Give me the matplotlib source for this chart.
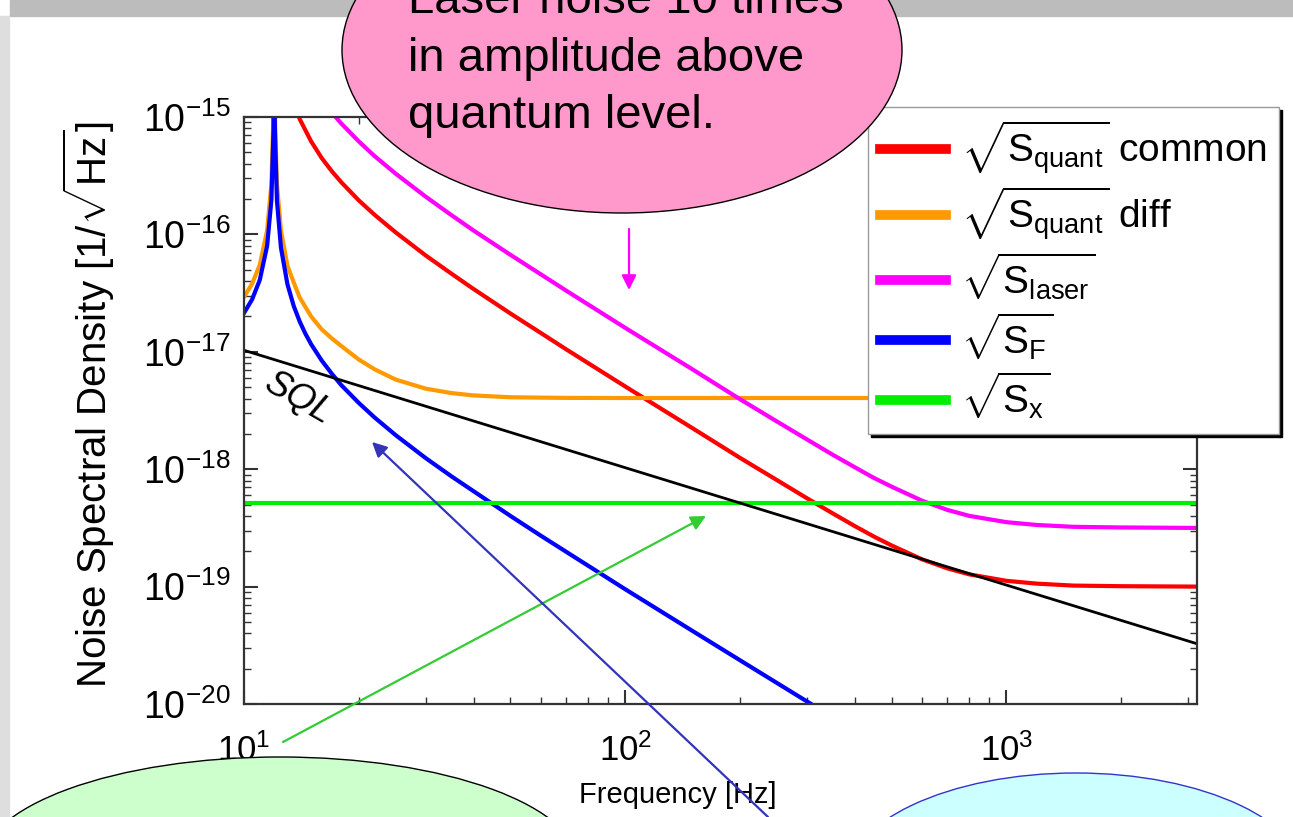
import numpy as np
import matplotlib
matplotlib.use("Agg")
import matplotlib.pyplot as plt
from matplotlib.patches import Ellipse, Rectangle, FancyArrowPatch

plt.rcParams['font.family'] = ['Liberation Sans', 'DejaVu Sans']
plt.rcParams['mathtext.fontset'] = 'custom'
plt.rcParams['mathtext.rm'] = 'Liberation Sans'
plt.rcParams['mathtext.it'] = 'Liberation Sans:italic'
plt.rcParams['mathtext.bf'] = 'Liberation Sans:bold'

# frequency grid around the 12 Hz suspension resonance [Hz]
freq_res = [10, 10.5, 11, 11.5, 11.8, 11.95, 12.0, 12.05, 12.2, 12.5, 13, 13.5, 14, 14.5,
            15, 16, 17, 18, 20, 22, 25, 30, 35, 40, 50, 60, 70, 100, 150, 200, 300, 400]
s_force = [2.14e-17, 2.79e-17, 4.09e-17, 8.0e-17, 1.97e-16, 7.8e-16, 1e-14, 7.8e-16,
           1.94e-16, 7.7e-17, 3.76e-17, 2.46e-17, 1.81e-17, 1.42e-17, 1.16e-17, 8.4e-18,
           6.5e-18, 5.2e-18, 3.67e-18, 2.76e-18, 1.95e-18, 1.24e-18, 8.7e-19, 6.5e-19,
           4.0e-19, 2.72e-19, 1.98e-19, 9.5e-20, 4.2e-20, 2.36e-20, 1.05e-20, 5.9e-21]

freq_diff = [10, 10.5, 11, 11.5, 11.8, 11.95, 12.0, 12.05, 12.2, 12.5, 13, 13.5, 14, 14.5,
             15, 16, 17, 18, 20, 22, 25, 30, 35, 40, 50, 60, 70, 100, 300, 1000, 3162]
s_quant_diff = [2.93e-17, 3.8e-17, 5.5e-17, 1.08e-16, 2.7e-16, 1.07e-15, 1e-14, 1.07e-15,
                2.7e-16, 1.08e-16, 5.4e-17, 3.9e-17, 2.9e-17, 2.4e-17, 2.0e-17, 1.55e-17,
                1.3e-17, 1.12e-17, 8.6e-18, 7.1e-18, 5.8e-18, 4.85e-18, 4.45e-18, 4.25e-18,
                4.1e-18, 4.07e-18, 4.05e-18, 4.04e-18, 4.04e-18, 4.04e-18, 4.04e-18]

freq_hi = [13, 14, 15, 16, 17, 18, 20, 22, 25, 30, 35, 40, 50, 60, 70, 100, 150, 200,
           250, 300, 350, 400, 450, 500, 600, 700, 800, 1000, 1200, 1500, 2000, 3162]
s_quant_common = [2.0e-15, 9.6e-16, 6.2e-16, 4.46e-16, 3.45e-16, 2.78e-16, 1.95e-16,
                  1.47e-16, 1.04e-16, 6.6e-17, 4.63e-17, 3.43e-17, 2.12e-17, 1.45e-17,
                  1.05e-17, 5.07e-18, 2.24e-18, 1.25e-18, 8.08e-19, 5.65e-19, 4.21e-19,
                  3.28e-19, 2.66e-19, 2.24e-19, 1.71e-19, 1.43e-19, 1.27e-19, 1.12e-19,
                  1.06e-19, 1.02e-19, 1.008e-19, 1.0e-19]
s_laser = [6.3e-15, 3.04e-15, 1.96e-15, 1.41e-15, 1.09e-15, 8.8e-16, 6.2e-16, 4.65e-16,
           3.29e-16, 2.09e-16, 1.46e-16, 1.08e-16, 6.7e-17, 4.58e-17, 3.32e-17, 1.6e-17,
           7.1e-18, 3.95e-18, 2.55e-18, 1.79e-18, 1.33e-18, 1.04e-18, 8.4e-19, 7.1e-19,
           5.4e-19, 4.5e-19, 4.0e-19, 3.54e-19, 3.35e-19, 3.23e-19, 3.19e-19, 3.16e-19]

freq_span = [10, 3162]
s_x = [5.15e-19, 5.15e-19]
sql = [1.03e-17, 3.26e-20]

W, H = 1293, 817
fig = plt.figure(figsize=(W / 100, H / 100), dpi=100)
fig.patch.set_facecolor('white')


def fx(x):
    return x / W


def fy(y):
    return 1 - y / H


# slide frame
fig.patches.append(Rectangle((fx(10), fy(16)), fx(W - 10), 16 / H,
                             transform=fig.transFigure, color='#bcbcbc', zorder=0))
fig.patches.append(Rectangle((0, 0), fx(9), fy(16), transform=fig.transFigure,
                             color='#dedede', zorder=0))

ax = fig.add_axes([fx(244), fy(704), fx(1197) - fx(244), (704 - 117) / H])
ax.set_xscale('log')
ax.set_yscale('log')

l_common, = ax.plot(freq_hi, s_quant_common, color='#ff0000', lw=3)
l_diff, = ax.plot(freq_diff, s_quant_diff, color='#ff9900', lw=3)
l_laser, = ax.plot(freq_hi, s_laser, color='#ff00ff', lw=3)
l_force, = ax.plot(freq_res, s_force, color='#0000ff', lw=3)
l_x, = ax.plot(freq_span, s_x, color='#00ee00', lw=3)
ax.plot(freq_span, sql, color='black', lw=2)

ax.set_xlim(10, 10 ** 3.5)
ax.set_ylim(1e-20, 1e-15)

ax.text(13.9, 4.0e-18, 'SQL', fontsize=26, style='italic', rotation=-30,
        ha='center', va='center')

for s in ax.spines.values():
    s.set_linewidth(1.6)
    s.set_color('#333333')
ax.tick_params(which='both', direction='in', top=True, right=True, colors='#333333',
               labelcolor='black')
ax.tick_params(which='major', length=10, width=1.5)
ax.tick_params(which='minor', length=5, width=1)
ax.tick_params(axis='y', which='major', labelsize=27, pad=10)
ax.tick_params(axis='x', which='major', labelsize=25, pad=21)

ax.set_xlabel('Frequency [Hz]', fontsize=21)
ax.set_ylabel(r'Noise Spectral Density [1/$\sqrt{\mathrm{Hz}}$]', fontsize=29)
ax.xaxis.set_label_coords(0.455, -0.131)
ax.yaxis.set_label_coords(-0.133, 0.51)

labels = [r'$\sqrt{\mathrm{S}_{\mathrm{quant}}}$ common',
          r'$\sqrt{\mathrm{S}_{\mathrm{quant}}}$ diff',
          r'$\sqrt{\mathrm{S}_{\mathrm{laser}}}$',
          r'$\sqrt{\mathrm{S}_{\mathrm{F}}}$',
          r'$\sqrt{\mathrm{S}_{\mathrm{x}}}$']
leg = fig.legend([l_common, l_diff, l_laser, l_force, l_x], labels,
                 loc='upper left', bbox_to_anchor=(fx(868), fy(107)),
                 borderaxespad=0, fontsize=28, handlelength=1.7, handletextpad=0.4,
                 labelspacing=0.2, borderpad=0.3, fancybox=False,
                 shadow={'color': 'black', 'alpha': 1.0}, framealpha=1,
                 edgecolor='#999999')
for ln in leg.get_lines():
    ln.set_linewidth(7)

# callout bubbles
fig.patches.append(Ellipse((fx(622), fy(50)), 560 / W, 326 / H,
                           transform=fig.transFigure, facecolor='#ff99cc',
                           edgecolor='black', lw=1, zorder=10))
fig.patches.append(Ellipse((fx(280), fy(867)), 600 / W, 220 / H,
                           transform=fig.transFigure, facecolor='#ccffcc',
                           edgecolor='black', lw=1, zorder=10))
fig.patches.append(Ellipse((fx(1076), fy(883)), 464 / W, 220 / H,
                           transform=fig.transFigure, facecolor='#ccffff',
                           edgecolor='#3333cc', lw=1, zorder=10))

for y, line in [(13, 'Laser noise 10 times'), (71, 'in amplitude above'),
                (128, 'quantum level.')]:
    fig.text(fx(408), fy(y), line, fontsize=34, va='baseline', ha='left', zorder=11)

# arrows
arrows = [((629, 229), (629, 290), '#ff00ff'),
          ((283, 742), (706, 516), '#33cc33'),
          ((768, 817), (372, 442), '#3333bb')]
for (x0, y0), (x1, y1), c in arrows:
    fig.patches.append(FancyArrowPatch((fx(x0), fy(y0)), (fx(x1), fy(y1)),
                                       transform=fig.transFigure, color=c, lw=1.6,
                                       arrowstyle='-|>', mutation_scale=22,
                                       shrinkA=0, shrinkB=0, zorder=12))

fig.savefig('out.png', dpi=100)
